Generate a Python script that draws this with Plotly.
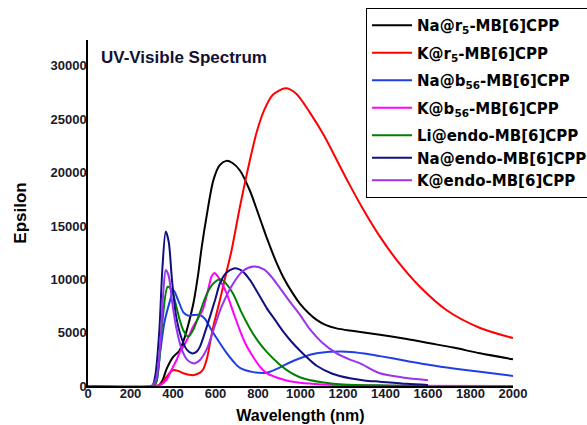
import plotly.graph_objects as go

# ---------------- data ----------------
names = [
    "Na@r<sub>5</sub>-MB[6]CPP",
    "K@r<sub>5</sub>-MB[6]CPP",
    "Na@b<sub>56</sub>-MB[6]CPP",
    "K@b<sub>56</sub>-MB[6]CPP",
    "Li@endo-MB[6]CPP",
    "Na@endo-MB[6]CPP",
    "K@endo-MB[6]CPP",
]

na_r5_x = [0, 330, 350, 370, 400, 430, 449, 470, 496, 519, 535, 558, 590, 620, 650, 680, 715, 762,
           809, 841, 880, 919, 960, 998, 1040, 1076, 1120, 1170, 1250, 1374, 1500, 1609, 1720, 1845, 2000]
na_r5_y = [0, 0, 500, 1600, 2700, 3300, 4200, 5600, 7750, 10560, 13000, 15900, 19300, 20700, 21100,
           20900, 20200, 18300, 15700, 13900, 11900, 10200, 8800, 7700, 6800, 6200, 5700, 5400, 5150,
           4800, 4400, 4000, 3600, 3060, 2500]

k_r5_x = [0, 320, 345, 370, 390, 405, 425, 449, 475, 500, 527, 543, 560, 574, 590, 621, 652, 676,
          715, 760, 794, 830, 870, 930, 980, 1045, 1110, 1170, 1230, 1294, 1374, 1453, 1562, 1688,
          1845, 2000]
k_r5_y = [0, 0, 200, 870, 1350, 1500, 1400, 1200, 1050, 1030, 1250, 1600, 2600, 4000, 5600, 8060,
          10700, 12750, 16800, 21000, 23800, 25900, 27300, 27900, 27400, 25600, 23500, 21200, 18900,
          16600, 14000, 11800, 9300, 7100, 5440, 4500]

na_b56_x = [0, 300, 320, 339, 360, 386, 402, 425, 449, 470, 496, 527, 550, 574, 605, 652, 684, 715,
            778, 841, 904, 950, 998, 1060, 1139, 1217, 1300, 1374, 1500, 1609, 1720, 1845, 2000]
na_b56_y = [0, 0, 300, 3060, 6000, 8000, 9000, 8000, 6900, 6600, 6650, 6650, 6300, 5500, 4500, 3100,
            2300, 1700, 1300, 1250, 1750, 2200, 2600, 3000, 3200, 3220, 3050, 2800, 2350, 1970, 1650,
            1340, 940]

k_b56_x = [0, 320, 345, 370, 395, 417, 433, 449, 470, 496, 520, 543, 565, 582, 595, 610, 630, 652,
           684, 715, 740, 778, 810, 841, 888, 950, 998, 1100, 1200, 1400, 2000]
k_b56_y = [0, 0, 150, 600, 1600, 2440, 3200, 3700, 4500, 5600, 6400, 7300, 9000, 10300, 10600, 10300,
           9600, 8700, 6900, 5200, 4000, 2700, 1800, 1200, 800, 450, 300, 150, 80, 30, 0]

li_endo_x = [0, 310, 330, 350, 375, 395, 409, 430, 449, 472, 496, 527, 550, 574, 600, 625, 650, 684,
             720, 762, 800, 841, 903, 950, 1000, 1100, 1200, 1400, 1600]
li_endo_y = [0, 0, 1500, 6000, 9300, 9000, 8000, 6300, 5200, 4620, 5300, 6900, 8200, 9200, 9800,
             10000, 9600, 8600, 7000, 5400, 4200, 3200, 2000, 1300, 800, 350, 150, 50, 0]

na_endo_x = [0, 300, 315, 335, 350, 366, 380, 395, 415, 440, 465, 488, 510, 527, 550, 574, 600, 621,
             650, 692, 730, 762, 800, 841, 880, 919, 960, 998, 1040, 1076, 1150, 1233, 1300, 1374,
             1500, 1600]
na_endo_y = [0, 0, 800, 5000, 11000, 14470, 13500, 10000, 6500, 4500, 3400, 3060, 3200, 3690, 5000,
             6500, 8200, 9630, 10600, 11030, 10700, 9940, 8700, 7300, 6200, 5100, 4100, 3300, 2500,
             1900, 1150, 720, 520, 400, 200, 100]

k_endo_x = [0, 300, 320, 340, 355, 366, 380, 395, 415, 440, 465, 490, 504, 527, 560, 590, 630, 684,
            730, 780, 830, 856, 888, 950, 1000, 1045, 1100, 1170, 1230, 1280, 1374, 1480, 1600]
k_endo_y = [0, 0, 600, 4000, 9000, 10875, 10300, 8000, 5500, 3500, 2500, 2150, 2125, 2440, 3500,
            5250, 7500, 9630, 10800, 11200, 10900, 10400, 9600, 7900, 6600, 5300, 4100, 3060, 2500,
            2125, 1190, 800, 550]

xs = [na_r5_x, k_r5_x, na_b56_x, k_b56_x, li_endo_x, na_endo_x, k_endo_x]
ys = [na_r5_y, k_r5_y, na_b56_y, k_b56_y, li_endo_y, na_endo_y, k_endo_y]
colors = ["#000000", "#ff0000", "#1f3fe6", "#ff00ff", "#008000", "#10107f", "#9933ee"]
groups = ["g1", "g2", "g3", "g4", "g5", "g5", "g5"]

x_ticks = list(range(0, 2001, 200))
y_ticks = [0, 5000, 10000, 15000, 20000, 25000, 30000]

FONT = "Liberation Sans, Arial, sans-serif"
LEG_FONT = "DejaVu Sans, Liberation Sans, sans-serif"

fig = go.Figure()
for name, x, y, c, g in zip(names, xs, ys, colors, groups):
    fig.add_trace(go.Scatter(
        x=x, y=y, name=name, mode="lines", legendgroup=g,
        line=dict(color=c, width=2, shape="spline", smoothing=0.8),
    ))

fig.update_layout(
    width=587, height=425,
    margin=dict(l=88, r=74, t=40, b=39, autoexpand=False),
    paper_bgcolor="white", plot_bgcolor="white",
    font=dict(family=FONT, color="black"),
    title=dict(
        text="UV-Visible Spectrum",
        font=dict(family=FONT, size=17, weight="bold", color="#111133"),
        x=(101 - 88) / 425, xanchor="left", xref="paper",
        y=(386 - 57) / 346, yanchor="middle", yref="paper",
    ),
    legend=dict(
        xref="container", yref="container",
        x=366 / 587, xanchor="left",
        y=1 - 8 / 425, yanchor="top",
        bgcolor="white", bordercolor="black", borderwidth=1,
        font=dict(family=LEG_FONT, size=15, weight="bold", color="black"),
        tracegroupgap=5, itemwidth=40,
    ),
    showlegend=True,
)
fig.update_xaxes(
    range=[0, 2000], tickvals=x_ticks, ticktext=[str(v) for v in x_ticks],
    showline=True, linecolor="black", linewidth=1.5, showgrid=False, zeroline=False,
    automargin=False, ticklabelstandoff=-5,
    ticks="", tickfont=dict(family=FONT, size=13, weight="bold", color="#1a1a2a"),
    title=dict(text="Wavelength (nm)", font=dict(family=FONT, size=16, weight="bold"), standoff=9),
)
fig.update_yaxes(
    range=[0, 32430], tickvals=y_ticks, ticktext=[str(v) for v in y_ticks],
    showline=True, linecolor="black", linewidth=1.5, showgrid=False, zeroline=False,
    automargin=False, ticklabelstandoff=-3,
    ticks="", tickfont=dict(family=FONT, size=13, weight="bold", color="#1a1a2a"),
    title=dict(text="Epsilon", font=dict(family=FONT, size=17, weight="bold"), standoff=20),
)

fig.write_html("out.html", config={"displayModeBar": False},
               post_script="document.body.style.margin='0px';")
